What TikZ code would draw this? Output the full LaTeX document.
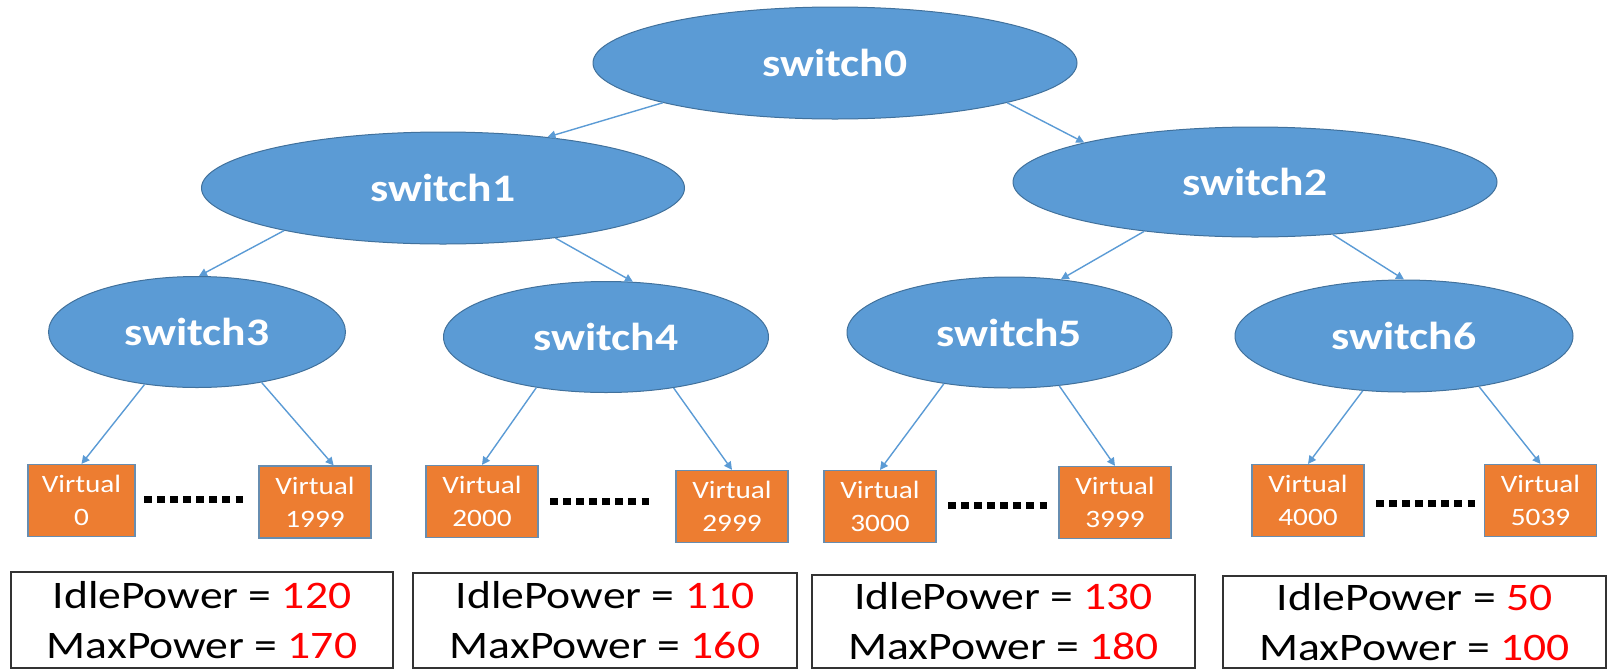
\documentclass[tikz,border=0pt]{standalone}
\usepackage{fontspec}
\setmainfont{Carlito}[FakeStretch=1.17]
\usetikzlibrary{arrows.meta,shapes.geometric}
\definecolor{swblue}{HTML}{5B9BD5}
\definecolor{swline}{HTML}{41719C}
\definecolor{vmorange}{HTML}{ED7D31}

\begin{document}
\begin{tikzpicture}[x=0.5pt,y=-0.5pt,>={Triangle[length=4pt,width=4pt]},
  switch/.style={ellipse,draw=swline,line width=0.5pt,fill=swblue,inner sep=0pt,
    text=white,font=\fontsize{19.5}{23}\selectfont\bfseries},
  vm/.style={rectangle,draw=swline!80,line width=0.6pt,fill=vmorange,text=white,
    align=center,inner sep=0pt,minimum width=56pt,minimum height=36pt,
    font=\fontsize{12.5}{16.5}\selectfont},
  power/.style={rectangle,draw=black!80,line width=0.75pt,fill=white,align=center,
    inner sep=0pt,minimum width=191.5pt,font=\fontsize{19.5}{25}\selectfont},
  link/.style={->,draw=swblue,line width=0.7pt},
  dots/.style={line width=3.5pt,dash pattern=on 3.75pt off 2.79pt}]
\useasboundingbox (0,0) rectangle (1608,670);
% switches
\node[switch,minimum width=242pt,minimum height=56pt]   (s0) at (835,63)    {switch0};
\node[switch,minimum width=241.5pt,minimum height=56pt] (s1) at (443,188)   {switch1};
\node[switch,minimum width=242pt,minimum height=55pt]   (s2) at (1255,182)  {switch2};
\node[switch,minimum width=148.5pt,minimum height=55.5pt] (s3) at (197,332) {switch3};
\node[switch,minimum width=162.5pt,minimum height=55.5pt] (s4) at (606,337) {switch4};
\node[switch,minimum width=162.5pt,minimum height=55.5pt] (s5) at (1009.5,332.5) {switch5};
\node[switch,minimum width=169pt,minimum height=56pt]   (s6) at (1404,336)  {switch6};
% virtual machines
\node[vm,minimum width=53.5pt] (v0) at (81.5,500.5) {Virtual\\0};
\node[vm] (v1999) at (315,502)    {Virtual\\1999};
\node[vm] (v2000) at (482,501.5)  {Virtual\\2000};
\node[vm] (v2999) at (732,506.5)  {Virtual\\2999};
\node[vm] (v3000) at (880,506.5)  {Virtual\\3000};
\node[vm] (v3999) at (1115,502.5) {Virtual\\3999};
\node[vm] (v4000) at (1308,500.5) {Virtual\\4000};
\node[vm] (v5039) at (1540.5,500.5) {Virtual\\5039};
% links
\draw[link] (s0.193) -- (s1.26);
\draw[link] (s0.347) -- (s2.167);
\draw[link] (s1.195) -- (s3.88);
\draw[link] (s1.336) -- (s4.64);
\draw[link] (s2.204) -- (s5.46);
\draw[link] (s2.326) -- (s6.90);
\draw[link] (s3.225) -- (v0.north);
\draw[link] (s3.322) -- (v1999.63);
\draw[link] (s4.216) -- (v2000.north);
\draw[link] (s4.323) -- (v2999.north);
\draw[link] (s5.218) -- (v3000.north);
\draw[link] (s5.313) -- (v3999.north);
\draw[link] (s6.233) -- (v4000.north);
\draw[link] (s6.326) -- (v5039.north);
% dots between first and last VM
\coordinate (d1a) at (144,499.5);  \coordinate (d1b) at (243,499.5);
\coordinate (d2a) at (550,501);    \coordinate (d2b) at (649,501);
\coordinate (d3a) at (948,505);    \coordinate (d3b) at (1047,505);
\coordinate (d4a) at (1376,503);   \coordinate (d4b) at (1475,503);
\draw[dots] (d1a) -- (d1b);
\draw[dots] (d2a) -- (d2b);
\draw[dots] (d3a) -- (d3b);
\draw[dots] (d4a) -- (d4b);
% power values
\node[power,minimum width=191pt,minimum height=48pt] (p1) at (202,620)
  {IdlePower = \textcolor{red}{120}\\MaxPower = \textcolor{red}{170}};
\node[power,minimum width=192pt,minimum height=47.5pt] (p2) at (605,620.5)
  {IdlePower = \textcolor{red}{110}\\MaxPower = \textcolor{red}{160}};
\node[power,minimum height=46.5pt] (p3) at (1003.5,621.5)
  {IdlePower = \textcolor{red}{130}\\MaxPower = \textcolor{red}{180}};
\node[power,minimum height=46pt] (p4) at (1414.5,622)
  {IdlePower = \textcolor{red}{50}\\MaxPower = \textcolor{red}{100}};
\end{tikzpicture}
\end{document}
